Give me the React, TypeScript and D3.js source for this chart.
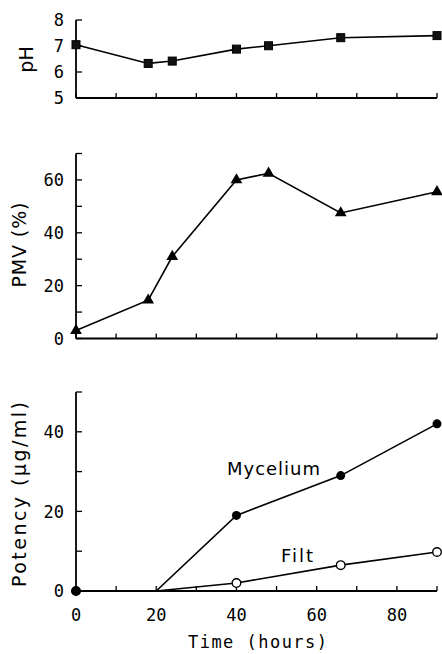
import React from "react";
import * as d3 from "d3";

const times = [0, 18, 24, 40, 48, 66, 90];
const pHValues = [7.05, 6.33, 6.42, 6.88, 7.01, 7.32, 7.4];
const pmvValues = [3, 14.5, 31, 60, 62.5, 47.5, 55.5];
const potencyTimes = [0, 20, 40, 66, 90];
const myceliumValues = [0, 0, 19, 29, 42];
const filtValues = [0, 0, 2, 6.5, 9.8];
const potencyMarked = [true, false, true, true, true];
const xTickValues = [0, 10, 20, 30, 40, 50, 60, 70, 80, 90];
const xTickLabels = [0, 20, 40, 60, 80];
const pHTicks = [5, 6, 7, 8];
const pmvTicks = [0, 10, 20, 30, 40, 50, 60, 70];
const pmvLabels = [0, 20, 40, 60];
const potTicks = [0, 10, 20, 30, 40, 50];
const potLabels = [0, 20, 40];

const W = 442;
const H = 654;
const X0 = 76;
const X1 = 437;

const x = d3.scaleLinear().domain([0, 90]).range([X0, X1]);
const yPH = d3.scaleLinear().domain([5, 8]).range([98, 20]);
const yPMV = d3.scaleLinear().domain([0, 70]).range([338.5, 153.5]);
const yPot = d3.scaleLinear().domain([0, 50]).range([591, 392]);

const monoFont = "'DejaVu Sans Mono', monospace";
const sansFont = "'DejaVu Sans', sans-serif";

function Frame({ y, yTicks, yLabels }: { y: d3.ScaleLinear<number, number>; yTicks: number[]; yLabels: number[] }) {
  const [d0, d1] = y.domain();
  const yb = y(d0);
  const yt = y(d1);
  return (
    <g>
      <line x1={X0} x2={X1} y1={yb} y2={yb} stroke="#000" strokeWidth={1.8} />
      <line x1={X0} x2={X0} y1={yb} y2={yt} stroke="#000" strokeWidth={1.8} />
      {xTickValues.map((t) => (
        <line key={"xt" + t} x1={x(t)} x2={x(t)} y1={yb} y2={yb - 5} stroke="#000" strokeWidth={1.3} />
      ))}
      {yTicks.map((t) => (
        <line key={"yt" + t} x1={X0} x2={X0 + 6} y1={y(t)} y2={y(t)} stroke="#000" strokeWidth={1.3} />
      ))}
      {yLabels.map((t) => (
        <text key={"yl" + t} x={64} y={y(t)} dy="0.36em" textAnchor="end" fontFamily={monoFont} fontSize={17} fill="#000">
          {t}
        </text>
      ))}
    </g>
  );
}

export default function App() {
  const linePH = d3.line<number>().x((_, i) => x(times[i])).y((d) => yPH(d));
  const linePMV = d3.line<number>().x((_, i) => x(times[i])).y((d) => yPMV(d));
  const linePot = d3.line<number>().x((_, i) => x(potencyTimes[i])).y((d) => yPot(d));
  const tri = d3.symbol().type(d3.symbolTriangle).size(60)();

  return (
    <svg width={W} height={H} style={{ position: "absolute", left: 0, top: 0, background: "#fff" }}>
      <rect width={W} height={H} fill="#fff" />
      {/* pH panel */}
      <Frame y={yPH} yTicks={pHTicks} yLabels={pHTicks} />
      <path d={linePH(pHValues) || ""} fill="none" stroke="#000" strokeWidth={1.6} />
      {pHValues.map((v, i) => (
        <rect key={"ph" + i} x={x(times[i]) - 4} y={yPH(v) - 4} width={8} height={8} fill="#111" stroke="#000" strokeWidth={1} />
      ))}
      <text transform={`translate(33,59.5) rotate(-90)`} textAnchor="middle" fontFamily={sansFont} fontSize={19} fill="#000">
        pH
      </text>

      {/* PMV panel */}
      <Frame y={yPMV} yTicks={pmvTicks} yLabels={pmvLabels} />
      <path d={linePMV(pmvValues) || ""} fill="none" stroke="#000" strokeWidth={1.6} />
      {pmvValues.map((v, i) => (
        <path key={"pmv" + i} d={tri || ""} transform={`translate(${x(times[i])},${yPMV(v)})`} fill="#000" />
      ))}
      <text
        transform={`translate(26,245) rotate(-90)`}
        textAnchor="middle"
        fontFamily={sansFont}
        fontSize={19}
        textLength={85}
        lengthAdjust="spacing"
        fill="#000"
      >
        PMV (%)
      </text>

      {/* Potency panel */}
      <Frame y={yPot} yTicks={potTicks} yLabels={potLabels} />
      <path d={linePot(filtValues) || ""} fill="none" stroke="#000" strokeWidth={1.6} />
      <path d={linePot(myceliumValues) || ""} fill="none" stroke="#000" strokeWidth={1.6} />
      {filtValues.map((v, i) =>
        potencyMarked[i] ? (
          <circle key={"f" + i} cx={x(potencyTimes[i])} cy={yPot(v)} r={4.3} fill="#fff" stroke="#000" strokeWidth={1.4} />
        ) : null
      )}
      {myceliumValues.map((v, i) =>
        potencyMarked[i] ? (
          <circle key={"m" + i} cx={x(potencyTimes[i])} cy={yPot(v)} r={4.5} fill="#000" />
        ) : null
      )}
      <text x={227} y={475} fontFamily={sansFont} fontSize={18} textLength={93} lengthAdjust="spacing" fill="#000">
        Mycelium
      </text>
      <text x={281} y={562} fontFamily={sansFont} fontSize={18} textLength={32} lengthAdjust="spacing" fill="#000">
        Filt
      </text>
      <text
        transform={`translate(26,494.5) rotate(-90)`}
        textAnchor="middle"
        fontFamily={sansFont}
        fontSize={19}
        textLength={185}
        lengthAdjust="spacing"
        fill="#000"
      >
        Potency (μg/ml)
      </text>
      {xTickLabels.map((t) => (
        <text key={"xl" + t} x={x(t)} y={621} textAnchor="middle" fontFamily={monoFont} fontSize={17} fill="#000">
          {t}
        </text>
      ))}
      <text x={257.5} y={648} textAnchor="middle" fontFamily={monoFont} fontSize={17} textLength={139} lengthAdjust="spacing" fill="#000">
        Time (hours)
      </text>
    </svg>
  );
}
